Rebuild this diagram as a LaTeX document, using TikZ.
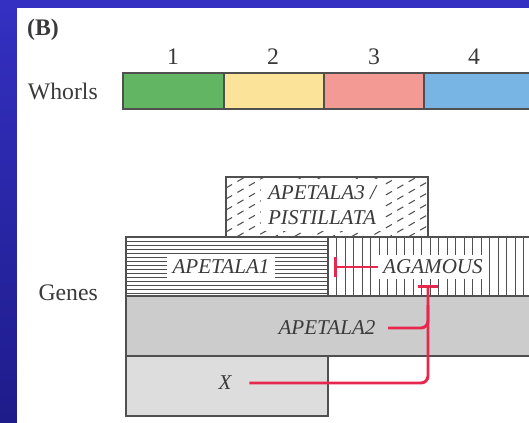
\documentclass[tikz,border=0pt]{standalone}
\usepackage{fontspec}
\setmainfont{Liberation Serif}
\usepackage{tikz}
\usepackage{xcolor}
\usetikzlibrary{arrows.meta,positioning}
\definecolor{slide}{RGB}{52,48,194}
\definecolor{slidedark}{RGB}{30,28,138}
\definecolor{wgreen}{RGB}{98,181,98}
\definecolor{wyellow}{RGB}{251,228,154}
\definecolor{wred}{RGB}{244,154,148}
\definecolor{wblue}{RGB}{120,180,228}
\definecolor{ap2grey}{RGB}{204,204,204}
\definecolor{xgrey}{RGB}{221,221,221}
\definecolor{edge}{RGB}{80,80,80}
\definecolor{txt}{RGB}{58,58,58}
\definecolor{inh}{RGB}{230,40,78}

\begin{document}
\begin{tikzpicture}[x=0.02cm,y=-0.02cm,
  lab/.style={text=txt,font=\fontsize{13.5}{15}\selectfont},
  gene/.style={text=txt,font=\fontsize{12}{14}\selectfont\itshape,fill=white,inner sep=2pt},
  box/.style={draw=edge,line width=0.6pt},
  hatch/.style={draw=edge,line width=0.5pt},
  inhline/.style={draw=inh,line width=1.7pt,rounded corners=4pt},
  inhib/.style={inhline,-{Bar[width=11pt]}}]
\useasboundingbox (0,0) rectangle (529,423);
\clip (0,0) rectangle (529,423);
\shade[top color=slide,bottom color=slidedark] (0,0) rectangle (529,423);
\fill[white] (17,8) rectangle (529,423);

% whorls
\foreach \c/\a/\b in {wgreen/123/224,wyellow/224/324,wred/324/424,wblue/424/545}
  \draw[box,fill=\c] (\a,73) rectangle (\b,109);
\foreach \n/\x in {1/173,2/273,3/374,4/474}
  \node[lab] (n\n) at (\x,57) {\n};
\node[lab,font=\fontsize{13.5}{15}\selectfont\bfseries] (panel) at (43,30) {(B)};
\node[lab,anchor=east] (whorls) at (104,91) {Whorls};
\node[lab,anchor=east] (genes) at (104,293) {Genes};

% APETALA3 / PISTILLATA
\begin{scope}
\clip (226,177) rectangle (428,237);
\foreach \i in {0,...,18}
  \draw[hatch,line width=0.6pt,dash pattern=on 4pt off 3.5pt] (226,177+\i*11) -- ++(210,-121);
\end{scope}
\draw[box] (226,177) rectangle (428,237);
\node[gene,align=center,inner sep=4pt] (ap3) at (322,205) {APETALA3 /\\PISTILLATA};

% APETALA1
\foreach \y in {241,245,...,293}
  \draw[hatch] (126,\y) -- (328,\y);
\draw[box] (126,237) rectangle (328,296);
\node[gene,inner sep=3pt] (ap1) at (221,267) {APETALA1};

% AGAMOUS
\foreach \x in {336.5,345,...,540}
  \draw[hatch] (\x,237) -- (\x,296);
\draw[box] (328,237) rectangle (545,296);
\node[gene,inner sep=3pt] (ag) at (433,267) {AGAMOUS};

% APETALA2 and X
\draw[box,fill=ap2grey] (126,296) rectangle (545,356);
\node[gene,fill=none] (ap2) at (327,328) {APETALA2};
\draw[box,fill=xgrey] (126,356) rectangle (328,416);
\node[gene,fill=none] (xg) at (225,383) {X};

% repression
\coordinate (agbar) at (334,267);
\coordinate (agfoot) at (428,285);
\coordinate (join) at (428,305);
\draw[inhib] (ag.west) -- (agbar);
\draw[inhib] ([xshift=8]xg.east) -| (agfoot);
\draw[inhline] ([xshift=5]ap2.east) -| (join);
\end{tikzpicture}
\end{document}
